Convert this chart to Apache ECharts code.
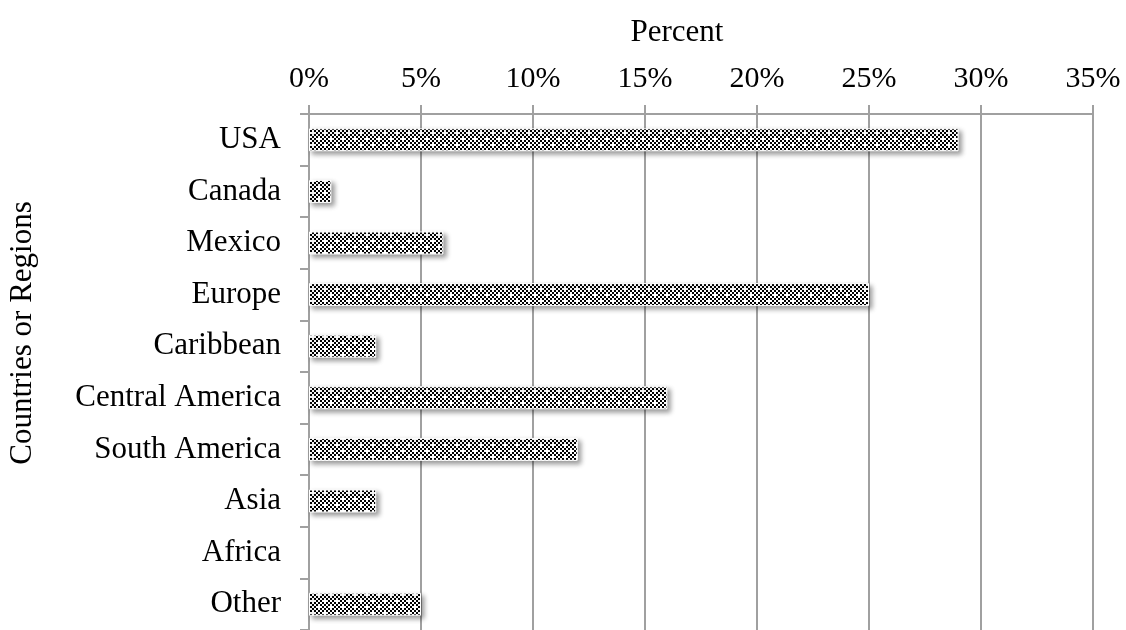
<!DOCTYPE html>
<html>
<head>
<meta charset="utf-8">
<script src="https://cdn.jsdelivr.net/npm/echarts@6/dist/echarts.min.js"></script>
<style>
  html, body { margin: 0; padding: 0; background: #fff; }
  #chart { width: 1126px; height: 630px; }
</style>
</head>
<body>
<div id="chart"></div>
<script>
// categories top to bottom
var regions = ['USA', 'Canada', 'Mexico', 'Europe', 'Caribbean', 'Central America', 'South America', 'Asia', 'Africa', 'Other'];
var percents = [29, 1, 6, 25, 3, 16, 12, 3, 0, 5];
var tickMin = 0, tickMax = 35, tickStep = 5;

var serif = "'Liberation Serif', 'Times New Roman', serif";
var gridGray = '#a0a0a0';

// checkered fill like the original bars
function makePattern() {
    var c = document.createElement('canvas');
    c.width = 12; c.height = 12;
    var ctx = c.getContext('2d');
    ctx.fillStyle = '#fff';
    ctx.fillRect(0, 0, 12, 12);
    ctx.fillStyle = '#000';
    for (var i = 0; i < 6; i++) {
        for (var j = 0; j < 6; j++) {
            if ((i + j) % 2 === 0) {
                // white spots
                if ((i === 0 && j === 0) || (i === 3 && j === 3)) continue;
                ctx.fillRect(i * 2, j * 2, 2, 2);
            }
        }
    }
    return c;
}

var fill = { image: makePattern(), repeat: 'repeat' };
var barData = percents.map(function (v) {
    if (v === 0) return { value: v, itemStyle: { shadowColor: 'transparent', borderWidth: 0 } };
    return v;
});

var chart = echarts.init(document.getElementById('chart'));
chart.setOption({
    animation: false,
    backgroundColor: '#fff',
    title: {
        text: 'Percent',
        left: 672,
        top: 12,
        textAlign: 'center',
        textStyle: { fontFamily: serif, fontSize: 31, fontWeight: 'normal', color: '#000' }
    },
    graphic: [{
        type: 'text',
        x: 23, y: 333,
        rotation: Math.PI / 2,
        style: {
            text: 'Countries or Regions',
            font: '31px ' + serif,
            fill: '#000',
            align: 'center',
            verticalAlign: 'middle'
        }
    }],
    grid: { left: 309, right: 33, top: 114, height: 520 },
    xAxis: {
        type: 'value',
        position: 'top',
        min: tickMin,
        max: tickMax,
        interval: tickStep,
        axisLine: { show: true, lineStyle: { color: gridGray, width: 2 } },
        axisTick: { show: true, length: 9, lineStyle: { color: gridGray, width: 2 } },
        splitLine: { show: true, lineStyle: { color: gridGray, width: 2 } },
        axisLabel: {
            formatter: '{value}%',
            margin: 20,
            fontFamily: serif,
            fontSize: 30,
            color: '#000'
        }
    },
    yAxis: {
        type: 'category',
        inverse: true,
        data: regions,
        axisLine: { show: true, lineStyle: { color: gridGray, width: 2 } },
        axisTick: { show: true, length: 9, lineStyle: { color: gridGray, width: 2 } },
        axisLabel: {
            margin: 28,
            fontFamily: serif,
            fontSize: 31,
            color: '#000'
        }
    },
    series: [{
        type: 'bar',
        data: barData,
        barWidth: 23,
        itemStyle: {
            color: fill,
            borderColor: '#fff',
            borderWidth: 1,
            shadowColor: 'rgba(0,0,0,0.4)',
            shadowBlur: 5,
            shadowOffsetX: 3,
            shadowOffsetY: 3
        }
    }]
});
</script>
</body>
</html>
